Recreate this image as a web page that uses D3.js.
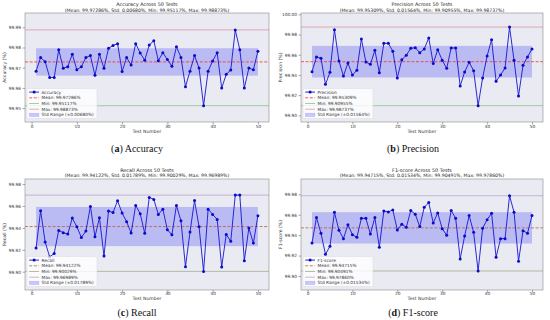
<!DOCTYPE html>
<html>
<head>
<meta charset="utf-8">
<script src="https://cdn.jsdelivr.net/npm/d3@7"></script>
<style>
  html, body { margin: 0; padding: 0; background: #ffffff; }
  svg { display: block; }
  text { font-family: "DejaVu Sans", sans-serif; }
</style>
</head>
<body>
<svg id="chart" width="550" height="320"></svg>
<script>
// ---------------- data ----------------
const testNumbers = [1,2,3,4,5,6,7,8,9,10,11,12,13,14,15,16,17,18,19,20,21,22,23,24,25,
  26,27,28,29,30,31,32,33,34,35,36,37,38,39,40,41,42,43,44,45,46,47,48,49,50];

const accuracy = [99.9683,99.9750,99.9730,99.9652,99.9652,99.9789,99.9697,99.9705,99.9767,99.9690,
  99.9705,99.9750,99.9760,99.9662,99.9767,99.9697,99.9796,99.9810,99.9819,99.9681,
  99.9750,99.9713,99.9819,99.9773,99.9737,99.9812,99.9834,99.9735,99.9774,99.9741,
  99.9707,99.9804,99.9751,99.9606,99.9683,99.9760,99.9698,99.95117,99.9683,99.9733,
  99.9774,99.9599,99.9667,99.9689,99.98873,99.9789,99.9599,99.9698,99.9690,99.9782];

const precision = [99.9432,99.9578,99.9564,99.9307,99.9426,99.9848,99.9538,99.9389,99.9518,99.9399,
  99.9446,99.9756,99.9528,99.9505,99.9644,99.9422,99.9713,99.9713,99.9634,99.9370,
  99.9551,99.9594,99.9663,99.9670,99.9620,99.9657,99.9766,99.9512,99.9650,99.9545,
  99.9465,99.9667,99.9667,99.9290,99.9429,99.9525,99.9442,99.90955,99.9370,99.9587,
  99.9749,99.9337,99.9399,99.9469,99.98737,99.9545,99.9191,99.9495,99.9578,99.9657];

const recall = [99.9216,99.9556,99.9271,99.9135,99.9167,99.9377,99.9356,99.9343,99.9489,99.9410,
  99.9313,99.9371,99.9596,99.9319,99.9492,99.9143,99.9553,99.9541,99.9647,99.9535,
  99.9456,99.9353,99.9605,99.9529,99.9350,99.9678,99.9660,99.9523,99.9571,99.9383,
  99.9337,99.9605,99.9465,99.9046,99.9362,99.9650,99.9410,99.90029,99.9571,99.9523,
  99.9477,99.9043,99.9340,99.9277,99.96989,99.9699,99.9100,99.9398,99.9261,99.9511];

const f1Score = [99.9324,99.9572,99.9418,99.9212,99.9291,99.9624,99.9448,99.9366,99.9503,99.9405,
  99.9379,99.9565,99.9565,99.9412,99.9572,99.9281,99.9637,99.9627,99.9647,99.9451,
  99.9507,99.9477,99.9641,99.9605,99.9484,99.9673,99.9719,99.9520,99.9618,99.9464,
  99.9399,99.9641,99.9565,99.9167,99.9392,99.9592,99.9428,99.90491,99.9467,99.9552,
  99.9614,99.9183,99.9366,99.9366,99.97860,99.9624,99.9144,99.9444,99.9418,99.9592];

const metricNames = ["Accuracy", "Precision", "Recall", "F1-score"];
const captionLetters = ["a", "b", "c", "d"];
const meanValues = [99.97286, 99.95309, 99.94122, 99.94715];
const stdValues  = [0.00680, 0.01564, 0.01789, 0.01534];
const minValues  = [99.95117, 99.90955, 99.90029, 99.90491];
const maxValues  = [99.98873, 99.98737, 99.96989, 99.97860];

const yTickValues = [
  [99.95, 99.96, 99.97, 99.98, 99.99],
  [99.90, 99.92, 99.94, 99.96, 99.98, 100.00],
  [99.90, 99.92, 99.94, 99.96, 99.98],
  [99.90, 99.92, 99.94, 99.96, 99.98]
];
const yLimits = [
  [99.9431, 99.9971],
  [99.8934, 100.0013],
  [99.8833, 99.9846],
  [99.8863, 99.9950]
];
const xTickValues = [0, 10, 20, 30, 40, 50];
const xLimits = [-1.45, 52.45];

const seriesValues = [accuracy, precision, recall, f1Score];

// ---------------- layout / style ----------------
const panels = [
  { x: 25,  y: 13,  w: 244, h: 109, t1: 6,     t2: 11.5,  xt: 128,   xl: 133.3, cap: 151.5, cx: 137 },
  { x: 301, y: 13,  w: 242, h: 109, t1: 6,     t2: 11.5,  xt: 128,   xl: 133.3, cap: 151.5, cx: 413 },
  { x: 25,  y: 179, w: 244, h: 111, t1: 172.4, t2: 177.4, xt: 295,   xl: 299.6, cap: 316,   cx: 137 },
  { x: 301, y: 179, w: 242, h: 111, t1: 172.4, t2: 177.4, xt: 295,   xl: 299.6, cap: 316,   cx: 413 }
];
const lineStyles = [
  { mean: "#e8322e", min: "#86c686", max: "#dc98a8" },
  { mean: "#e8322e", min: "#86c686", max: "#dc98a8" },
  { mean: "#b8603c", min: "#a6ad8c", max: "#b9a6cc" },
  { mean: "#b8603c", min: "#a6ad8c", max: "#b9a6cc" }
];

const svg = d3.select("#chart");
const fmtPct = d3.format(".5f");

panels.forEach((p, i) => {
  const name = metricNames[i];
  const vals = seriesValues[i];
  const mean = meanValues[i], std = stdValues[i];
  const st = lineStyles[i];

  const x = d3.scaleLinear().domain(xLimits).range([p.x, p.x + p.w]);
  const y = d3.scaleLinear().domain(yLimits[i]).range([p.y + p.h, p.y]);

  const g = svg.append("g");

  // plot background
  g.append("rect").attr("x", p.x).attr("y", p.y).attr("width", p.w).attr("height", p.h)
    .attr("fill", "#eaeaf2");

  const clipId = "clip" + i;
  g.append("clipPath").attr("id", clipId).append("rect")
    .attr("x", p.x).attr("y", p.y).attr("width", p.w).attr("height", p.h);
  const pg = g.append("g").attr("clip-path", `url(#${clipId})`);

  // std band
  pg.append("rect")
    .attr("x", x(testNumbers[0])).attr("width", x(testNumbers[testNumbers.length - 1]) - x(testNumbers[0]))
    .attr("y", y(mean + std)).attr("height", y(mean - std) - y(mean + std))
    .attr("fill", "rgba(0,0,255,0.2)");

  // reference lines
  pg.append("line").attr("x1", p.x).attr("x2", p.x + p.w)
    .attr("y1", y(maxValues[i])).attr("y2", y(maxValues[i]))
    .attr("stroke", st.max).attr("stroke-width", 0.8);
  pg.append("line").attr("x1", p.x).attr("x2", p.x + p.w)
    .attr("y1", y(minValues[i])).attr("y2", y(minValues[i]))
    .attr("stroke", st.min).attr("stroke-width", 0.8);
  pg.append("line").attr("x1", p.x).attr("x2", p.x + p.w)
    .attr("y1", y(mean)).attr("y2", y(mean))
    .attr("stroke", st.mean).attr("stroke-width", 0.8).attr("stroke-dasharray", "3,1.6");

  // series line
  const line = d3.line().x((d, k) => x(testNumbers[k])).y(d => y(d));
  pg.append("path").datum(vals).attr("d", line)
    .attr("fill", "none").attr("stroke", "#1414d0").attr("stroke-width", 0.9);
  pg.selectAll("circle.pt").data(vals).join("circle").attr("class", "pt")
    .attr("cx", (d, k) => x(testNumbers[k])).attr("cy", d => y(d)).attr("r", 1.5)
    .attr("fill", "#0a0ac8");

  // frame
  g.append("rect").attr("x", p.x).attr("y", p.y).attr("width", p.w).attr("height", p.h)
    .attr("fill", "none").attr("stroke", "#8a8a8a").attr("stroke-width", 0.6);

  // axes
  const yAxis = d3.axisLeft(y).tickValues(yTickValues[i]).tickFormat(d3.format(".2f"))
    .tickSize(2.5).tickPadding(1.5);
  const ya = g.append("g").attr("transform", `translate(${p.x},0)`).call(yAxis);
  const xAxis = d3.axisBottom(x).tickValues(xTickValues).tickFormat(d3.format("d"))
    .tickSize(2.5).tickPadding(1.2);
  const xa = g.append("g").attr("transform", `translate(0,${p.y + p.h})`).call(xAxis);
  [ya, xa].forEach(a => {
    a.select(".domain").remove();
    a.selectAll(".tick line").attr("stroke", "#555").attr("stroke-width", 0.5);
    a.selectAll(".tick text").attr("fill", "#333").style("font-size", "4.3px")
      .style("font-family", "DejaVu Sans, sans-serif");
  });
  xa.selectAll(".tick text").attr("dy", null).attr("y", p.xt - (p.y + p.h)).attr("dominant-baseline", "auto");

  // titles
  g.append("text").attr("x", p.x + p.w / 2).attr("y", p.t1).attr("text-anchor", "middle")
    .attr("fill", "#222").style("font-size", "4.9px").text(`${name} Across 50 Tests`);
  g.append("text").attr("x", p.x + p.w / 2).attr("y", p.t2).attr("text-anchor", "middle")
    .attr("fill", "#222").style("font-size", "4.6px")
    .text(`(Mean: ${fmtPct(mean)}%, Std: ${fmtPct(std)}%, Min: ${fmtPct(minValues[i])}%, Max: ${fmtPct(maxValues[i])}%)`);

  // axis labels
  g.append("text").attr("x", p.x + p.w / 2).attr("y", p.xl).attr("text-anchor", "middle")
    .attr("fill", "#333").style("font-size", "4.6px").text("Test Number");
  g.append("text").attr("transform", `translate(${p.x - 19.5},${p.y + p.h / 2}) rotate(-90)`)
    .attr("text-anchor", "middle").attr("fill", "#333").style("font-size", "4.6px")
    .text(`${name} (%)`);

  // legend
  const lx = p.x + 2, lh = 30, ly = p.y + p.h - lh - 3.5, lw = 70;
  g.append("rect").attr("x", lx).attr("y", ly).attr("width", lw).attr("height", lh)
    .attr("rx", 1.2).attr("fill", "rgba(255,255,255,0.8)").attr("stroke", "#d6d6d6").attr("stroke-width", 0.4);
  const items = [
    { type: "series", label: name },
    { type: "mean", label: `Mean: ${fmtPct(mean)}%` },
    { type: "min", label: `Min: ${fmtPct(minValues[i])}%` },
    { type: "max", label: `Max: ${fmtPct(maxValues[i])}%` },
    { type: "std", label: `Std Range (±${fmtPct(std)}%)` }
  ];
  items.forEach((it, k) => {
    const cy = ly + 3.6 + k * 5.7;
    const x0 = lx + 2.2, x1 = lx + 12;
    if (it.type === "series") {
      g.append("line").attr("x1", x0).attr("x2", x1).attr("y1", cy).attr("y2", cy)
        .attr("stroke", "#1414d0").attr("stroke-width", 0.9);
      g.append("circle").attr("cx", (x0 + x1) / 2).attr("cy", cy).attr("r", 1.5).attr("fill", "#0a0ac8");
    } else if (it.type === "std") {
      g.append("rect").attr("x", x0).attr("y", cy - 1.8).attr("width", x1 - x0).attr("height", 3.6)
        .attr("fill", "rgba(0,0,255,0.2)").attr("stroke", "rgba(0,0,255,0.25)").attr("stroke-width", 0.3);
    } else {
      const ln = g.append("line").attr("x1", x0).attr("x2", x1).attr("y1", cy).attr("y2", cy)
        .attr("stroke", st[it.type]).attr("stroke-width", 0.8);
      if (it.type === "mean") ln.attr("stroke-dasharray", "3,1.6");
    }
    g.append("text").attr("x", lx + 14.5).attr("y", cy + 1.5).attr("fill", "#333")
      .style("font-size", "4.3px").text(it.label);
  });

  // caption
  const cap = g.append("text").attr("x", p.cx).attr("y", p.cap).attr("text-anchor", "middle")
    .style("font-family", "'Liberation Serif', 'DejaVu Serif', serif").style("font-size", "10px")
    .attr("fill", "#111");
  cap.append("tspan").text("(");
  cap.append("tspan").style("font-weight", "bold").text(captionLetters[i]);
  cap.append("tspan").text(") " + name);
});
</script>
</body>
</html>
